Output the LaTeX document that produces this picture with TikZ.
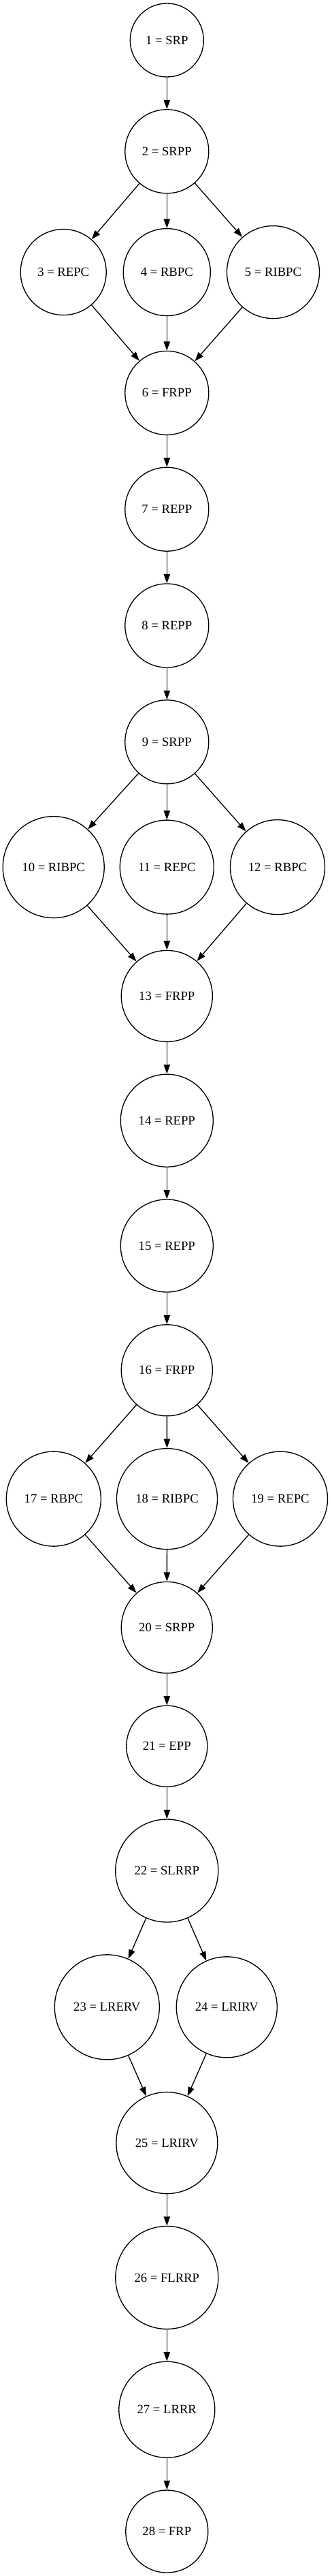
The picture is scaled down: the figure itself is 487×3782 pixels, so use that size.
\documentclass[tikz,border=0pt]{standalone}
\usepackage{fontspec}
\setmainfont{Liberation Serif}
\usetikzlibrary{arrows.meta}

\begin{document}
\begin{tikzpicture}[x=0.75pt,y=-0.75pt,
  state/.style={draw,circle,line width=1pt,inner sep=0pt,font=\fontsize{14}{16}\selectfont},
  flow/.style={line width=1pt,-{Triangle[length=10pt,width=7pt]}}]
\useasboundingbox (0,0) rectangle (487,3782);

\node[state,minimum size=81pt] (n1) at (245.3,59) {1 = SRP};
\node[state,minimum size=92.25pt] (n2) at (245.3,222.3) {2 = SRPP};
\node[state,minimum size=94.5pt] (n3) at (93.2,399.6) {3 = REPC};
\node[state,minimum size=96pt] (n4) at (245.3,399.6) {4 = RBPC};
\node[state,minimum size=102pt] (n5) at (401.5,399.6) {5 = RIBPC};
\node[state,minimum size=92.25pt] (n6) at (245.3,576.9) {6 = FRPP};
\node[state,minimum size=92.25pt] (n7) at (245.3,747.7) {7 = REPP};
\node[state,minimum size=92.25pt] (n8) at (245.3,918.5) {8 = REPP};
\node[state,minimum size=92.25pt] (n9) at (245.3,1089.3) {9 = SRPP};
\node[state,minimum size=111.75pt] (n10) at (78.7,1273.1) {10 = RIBPC};
\node[state,minimum size=103.5pt] (n11) at (245.3,1273.1) {11 = REPC};
\node[state,minimum size=104.25pt] (n12) at (408,1273.1) {12 = RBPC};
\node[state,minimum size=100.5pt] (n13) at (245.3,1462.4) {13 = FRPP};
\node[state,minimum size=102pt] (n14) at (245.3,1645.2) {14 = REPP};
\node[state,minimum size=102pt] (n15) at (245.3,1829) {15 = REPP};
\node[state,minimum size=100.5pt] (n16) at (245.3,2011.8) {16 = FRPP};
\node[state,minimum size=104.25pt] (n17) at (78.8,2200.6) {17 = RBPC};
\node[state,minimum size=111pt] (n18) at (245.5,2200.6) {18 = RIBPC};
\node[state,minimum size=104.25pt] (n19) at (412,2200.6) {19 = REPC};
\node[state,minimum size=100.5pt] (n20) at (245.3,2389.4) {20 = SRPP};
\node[state,minimum size=89.25pt] (n21) at (245.3,2563.7) {21 = EPP};
\node[state,minimum size=113.25pt] (n22) at (245.3,2746.5) {22 = SLRRP};
\node[state,minimum size=115.5pt] (n23) at (157.3,2946.8) {23 = LRERV};
\node[state,minimum size=111pt] (n24) at (333.3,2946.8) {24 = LRIRV};
\node[state,minimum size=111.75pt] (n25) at (245.3,3146.1) {25 = LRIRV};
\node[state,minimum size=113.25pt] (n26) at (245.3,3343.9) {26 = FLRRP};
\node[state,minimum size=105.75pt] (n27) at (245.3,3537.7) {27 = LRRR};
\node[state,minimum size=90.75pt] (n28) at (245.3,3716.5) {28 = FRP};

\foreach \a/\b in {1/2,2/3,2/4,2/5,3/6,4/6,5/6,6/7,7/8,8/9,
  9/10,9/11,9/12,10/13,11/13,12/13,13/14,14/15,15/16,
  16/17,16/18,16/19,17/20,18/20,19/20,20/21,21/22,
  22/23,22/24,23/25,24/25,25/26,26/27,27/28}
  \draw[flow] (n\a) -- (n\b);
\end{tikzpicture}
\end{document}
